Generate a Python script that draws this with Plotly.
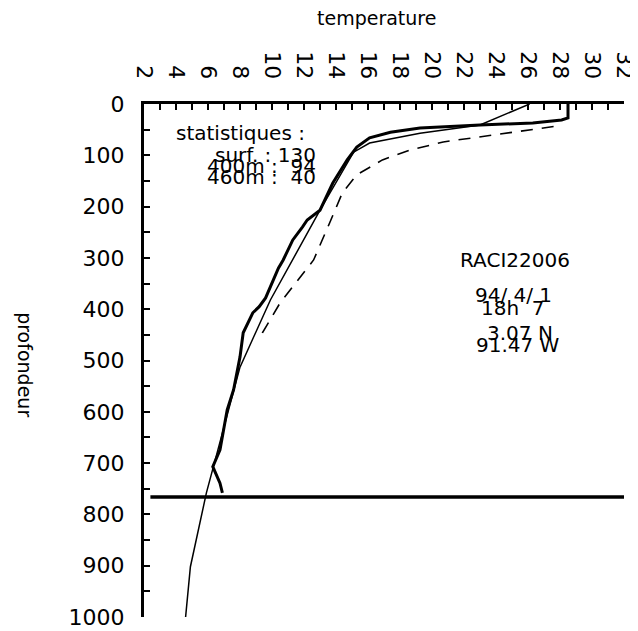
import plotly.graph_objects as go

# --- data ---
obs_temp = [28.5, 28.5, 28.1, 26.3, 23.0, 19.25, 17.4, 16.1, 15.3, 14.7, 13.8, 13.0, 12.2, 11.9, 11.3,
            11.0, 10.7, 10.4, 10.1, 9.8, 9.6, 9.2, 8.8, 8.2, 8.0, 7.6, 7.2, 6.75, 6.3, 6.75, 6.9]
obs_depth = [0, 27, 31, 37, 41, 47, 55, 66, 84, 109, 154, 207, 226, 240, 265,
             285, 304, 320, 343, 365, 378, 395, 407, 446, 493, 557, 596, 674, 707, 739, 758]

clim_temp = [26.1, 23.0, 19.25, 16.1, 15.1, 14.1, 13.0, 9.9, 8.0, 5.9, 4.9, 4.6]
clim_depth = [0, 41, 57, 76, 94, 148, 207, 382, 513, 758, 902, 1000]

dash_temp = [27.6, 23.0, 20.7, 18.6, 16.9, 15.3, 14.4, 13.6, 12.6, 11.3, 10.5, 9.4, 9.25]
dash_depth = [44, 64, 74, 90, 109, 138, 173, 232, 304, 356, 388, 446, 460]

bottom_temp = [2.4, 32.0]
bottom_depth = [766, 766]

x_ticks = list(range(2, 33, 2))
y_ticks = list(range(0, 1001, 100))

stats_lines = ["surf. : 130", "400m :  94", "460m :  40"]
stats_depths = [99, 121, 143]
station_lines = ["RACI22006", "94/ 4/ 1", "18h  7", "3.07 N", "91.47 W"]
station_temps = [25.2, 25.1, 25.06, 25.5, 25.4]
station_depths = [304, 372, 398, 446, 470]

FONT = "DejaVu Sans"

fig = go.Figure()
fig.add_trace(go.Scatter(x=clim_temp, y=clim_depth, mode="lines",
                         line=dict(color="black", width=1.5), showlegend=False))
fig.add_trace(go.Scatter(x=dash_temp, y=dash_depth, mode="lines",
                         line=dict(color="black", width=1.6, dash="12px,9px"), showlegend=False))
fig.add_trace(go.Scatter(x=obs_temp, y=obs_depth, mode="lines",
                         line=dict(color="black", width=3), showlegend=False))
fig.add_trace(go.Scatter(x=bottom_temp, y=bottom_depth, mode="lines",
                         line=dict(color="black", width=3.5), showlegend=False))

annotations = [
    dict(text="statistiques :", x=8.0, y=57, xref="x", yref="y", showarrow=False,
         xanchor="center", yanchor="middle",
         font=dict(family=FONT, size=20, color="black")),
]
for t, d in zip(stats_lines, stats_depths):
    annotations.append(dict(text=t, x=12.9, y=d, xref="x", yref="y", xanchor="right",
                            yanchor="middle",
                            showarrow=False, font=dict(family=FONT, size=20, color="black")))
for t, xv, d in zip(station_lines, station_temps, station_depths):
    annotations.append(dict(text=t, x=xv, y=d, xref="x", yref="y", showarrow=False,
                            xanchor="center", yanchor="middle",
                            font=dict(family=FONT, size=20, color="black")))
annotations.append(dict(text="temperature", x=0.485, y=1.168, xref="paper", yref="paper",
                        xanchor="center", yanchor="middle",
                        showarrow=False, font=dict(family=FONT, size=19, color="black")))
annotations.append(dict(text="profondeur", x=-0.248, y=0.491, xref="paper", yref="paper",
                        xanchor="center", yanchor="middle",
                        textangle=90, showarrow=False, font=dict(family=FONT, size=19, color="black")))

fig.update_layout(
    width=630, height=623,
    margin=dict(l=136, r=14, t=96, b=14),
    paper_bgcolor="white", plot_bgcolor="white",
    annotations=annotations,
    xaxis=dict(side="top", range=[2, 32], showline=True, linewidth=3, linecolor="black",
               automargin=False,
               showgrid=False, zeroline=False, ticks="inside", ticklen=6, tickwidth=2,
               tickcolor="black", tickvals=x_ticks, ticktext=[str(v) for v in x_ticks],
               tickangle=90, ticklabelstandoff=14,
               tickfont=dict(family=FONT, size=22, color="black"),
               minor=dict(ticks="inside", dtick=1, ticklen=6, tickwidth=2, tickcolor="black")),
    yaxis=dict(range=[1000, 0], showline=True, linewidth=3, linecolor="black",
               automargin=False,
               showgrid=False, zeroline=False, ticks="inside", ticklen=6, tickwidth=2,
               tickcolor="black", tickvals=y_ticks, ticktext=[str(v) for v in y_ticks],
               ticklabelstandoff=12,
               tickfont=dict(family=FONT, size=22, color="black"),
               minor=dict(ticks="inside", dtick=50, ticklen=6, tickwidth=2, tickcolor="black")),
)

fig.write_html("out.html")
